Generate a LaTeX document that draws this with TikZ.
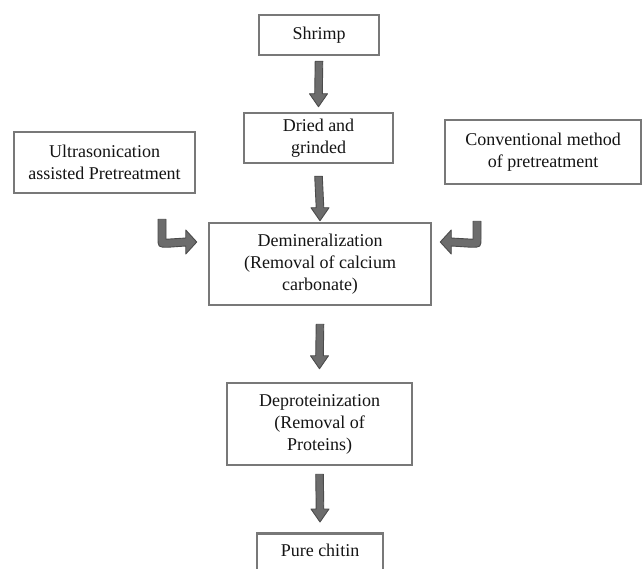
\documentclass[tikz,border=0pt]{standalone}
\usepackage{fontspec}
\setmainfont{Liberation Serif}
\usetikzlibrary{calc}
\definecolor{boxgray}{RGB}{120,120,120}
\definecolor{arrfill}{RGB}{108,108,108}
\definecolor{arrline}{RGB}{75,75,75}
\definecolor{txt}{RGB}{20,20,20}
\tikzset{
  stepbox/.style={draw=boxgray, line width=2.5pt, fill=white, inner sep=0pt,
    align=center, text=txt, font=\fontsize{18}{22}\selectfont},
  blockarr/.style={fill=arrfill, draw=arrline, line width=0.9pt, line join=round},
}
\newcommand\blockdown[4]{%
  \draw[blockarr] ($(#1.south)+(-3.8,#2)$) -- ($(#1.south)+(3.8,#2)$)
    -- ($(#3.north)+(3.8,-#4-13)$) -- ($(#3.north)+(9,-#4-13)$)
    -- ($(#3.north)+(0,-#4)$) -- ($(#3.north)+(-9,-#4-13)$)
    -- ($(#3.north)+(-3.8,-#4-13)$) -- cycle;}
\begin{document}
\begin{tikzpicture}[x=1pt,y=-1pt]
\useasboundingbox (0,0) rectangle (644,569);
\node[stepbox, minimum width=120pt, minimum height=40pt] (shrimp) at (319,35) {Shrimp};
\node[stepbox, minimum width=149pt, minimum height=50pt] (dried) at (318.5,138) {Dried and\\grinded};
\node[stepbox, minimum width=181pt, minimum height=61pt] (ultra) at (104.5,162.5) {Ultrasonication\\assisted Pretreatment};
\node[stepbox, minimum width=196pt, minimum height=64pt] (conv) at (543,152) {Conventional method\\of pretreatment};
\node[stepbox, minimum width=222pt, minimum height=82pt] (dem) at (320,264) {Demineralization\\(Removal of calcium\\carbonate)};
\node[stepbox, minimum width=185pt, minimum height=82pt] (dep) at (319.5,424) {Deproteinization\\(Removal of\\Proteins)};
\node[stepbox, minimum width=126pt, minimum height=50pt, text height=12pt, text depth=16pt, anchor=north] (pure) at (320,532) {Pure chitin};

\blockdown{shrimp}{5}{dried}{5}
\blockdown{dried}{12}{dem}{1}
\blockdown{dem}{18}{dep}{13}
\blockdown{dep}{8}{pure}{10}

% curved arrow from the left box
\coordinate (ls) at ($(ultra.south)+(57.5,25)$);
\coordinate (lt) at ($(dem.west)+(-11,-22)$);
\draw[blockarr] ($(ls)+(4,0)$) -- ($(ls)+(4,20)$) -- ($(lt)+(-11,-4)$) -- ($(lt)+(-11,-12)$)
  -- (lt) -- ($(lt)+(-11,12)$) -- ($(lt)+(-11,4)$) -- ($(ls)+(6,28)$)
  .. controls ($(ls)+(-4,28)$) .. ($(ls)+(-4,18)$) -- ($(ls)+(-4,0)$) -- cycle;

% curved arrow from the right box
\coordinate (rs) at ($(conv.south)+(-66,36)$);
\coordinate (rt) at ($(dem.east)+(8,-22)$);
\draw[blockarr] ($(rs)+(-4,0)$) -- ($(rs)+(-4,18)$) -- ($(rt)+(11,-4)$) -- ($(rt)+(11,-12)$)
  -- (rt) -- ($(rt)+(11,12)$) -- ($(rt)+(11,4)$) -- ($(rs)+(-6,26)$)
  .. controls ($(rs)+(4,26)$) .. ($(rs)+(4,16)$) -- ($(rs)+(4,0)$) -- cycle;
\end{tikzpicture}
\end{document}
